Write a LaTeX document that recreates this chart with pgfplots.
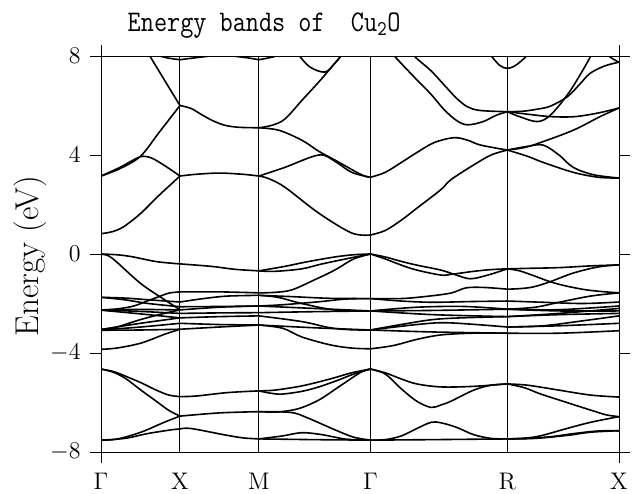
\documentclass[border=0pt]{standalone}
\usepackage{pgfplots}
\pgfplotsset{compat=1.18}
\usetikzlibrary{calc}
\begin{document}
\begin{tikzpicture}
\begin{axis}[
 scale only axis, width=259pt, height=198pt,
 xmin=0, xmax=3.28, ymin=-8, ymax=8,
 axis line style={line width=0.5pt},
 xtick={0,3.28}, xticklabels={$\Gamma$,X},
 extra x ticks={0.5,1,1.707,2.573},
 extra x tick labels={X,M,$\Gamma$,R},
 extra x tick style={major tick length=0pt, grid=major, xticklabel style={yshift=-5.5pt}},
 major grid style={black, line width=0.5pt},
 ytick={-8,-4,0,4,8},
 tick align=outside, major tick length=5.5pt,
 tick style={black, line width=0.5pt},
 yticklabel pos=left, xticklabel pos=bottom,
 ticklabel style={font=\fontsize{12}{14}\selectfont},
 xticklabel style={yshift=-1.6pt},
 yticklabel style={xshift=-1.2pt},
 every axis title shift=0pt,
 title={\scalebox{0.85}[1]{\fontsize{15}{17}\selectfont\ttfamily Energy bands of\ \ Cu\textsubscript{2}O}},
 title style={at={(rel axis cs:0.315,1.063)}, anchor=base},
 ylabel={\fontsize{16.5}{18}\selectfont Energy (eV)},
 ylabel style={at={(rel axis cs:-0.137,0.495)}, anchor=center},
 band/.style={black, line width=0.8pt, smooth, tension=0.55, mark=none},
]
% ---- conduction bands ----
\addplot[band] coordinates {(0,0.82)(0.07,0.9)(0.143,1.1)(0.253,1.65)(0.364,2.35)(0.5,3.15)};
\addplot[band] coordinates {(0,3.15)(0.12,3.45)(0.25,3.95)(0.37,4.93)(0.5,6.0)};
\addplot[band] coordinates {(0,3.15)(0.12,3.5)(0.22,3.85)(0.27,3.95)(0.33,3.85)(0.42,3.5)(0.5,3.15)};
\addplot[band] coordinates {(0.27,8.35)(0.305,8.04)(0.43,6.73)(0.5,6.0)};
\addplot[band] coordinates {(0.28,8.2)(0.4,7.95)(0.5,7.85)};
\addplot[band] coordinates {(0.5,7.85)(0.6,7.93)(0.76,8.03)(0.9,7.95)(1.0,7.85)};
\addplot[band] coordinates {(0.5,6.0)(0.57,5.88)(0.64,5.62)(0.71,5.38)(0.785,5.2)(0.873,5.12)(1.0,5.1)};
\addplot[band] coordinates {(0.5,3.15)(0.6,3.22)(0.75,3.27)(0.9,3.22)(1.0,3.15)};
\addplot[band] coordinates {(1,5.1)(1.082,5.2)(1.164,5.45)(1.271,6.2)(1.379,6.95)(1.461,7.56)(1.524,8.04)(1.56,8.35)};
\addplot[band] coordinates {(1,7.85)(1.08,7.95)(1.16,8.1)(1.23,8.3)};
\addplot[band] coordinates {(1.22,8.35)(1.252,8.04)(1.322,7.56)(1.417,7.35)(1.48,7.7)(1.524,8.04)(1.55,8.3)};
\addplot[band] coordinates {(1,5.1)(1.126,5.0)(1.271,4.6)(1.379,4.15)(1.48,3.8)(1.65,3.2)(1.707,3.1)};
\addplot[band] coordinates {(1,3.15)(1.164,3.5)(1.379,4.0)(1.48,3.75)(1.587,3.3)(1.707,3.1)};
\addplot[band] coordinates {(1,3.15)(1.06,3.05)(1.164,2.7)(1.379,1.65)(1.587,0.85)(1.707,0.77)};
\addplot[band] coordinates {(1.707,0.77)(1.8,0.95)(1.902,1.37)(2.0,1.85)(2.152,2.6)(2.215,3.0)(2.36,3.6)(2.47,4.0)(2.573,4.2)};
\addplot[band] coordinates {(1.707,3.1)(1.8,3.3)(1.902,3.7)(2.0,4.1)(2.109,4.5)(2.234,4.7)(2.32,4.6)(2.404,4.4)(2.573,4.2)};
\addplot[band] coordinates {(1.96,8.3)(1.983,8.0)(2.09,7.4)(2.17,6.85)(2.25,6.3)(2.32,5.95)(2.40,5.8)(2.573,5.75)};
\addplot[band] coordinates {(1.83,8.3)(1.858,8.0)(1.983,7.15)(2.09,6.45)(2.17,5.85)(2.25,5.4)(2.32,5.22)(2.42,5.35)(2.5,5.6)(2.573,5.75)};
\addplot[band] coordinates {(2.44,8.35)(2.467,8.04)(2.525,7.62)(2.573,7.5)(2.62,7.6)(2.67,7.85)(2.699,8.04)(2.72,8.3)};
\addplot[band] coordinates {(2.573,5.75)(2.674,5.77)(2.76,5.85)(2.844,5.97)(2.952,6.35)(3.03,6.85)(3.097,7.3)(3.19,7.6)(3.28,7.75)};
\addplot[band] coordinates {(2.573,5.75)(2.65,5.55)(2.762,5.35)(2.844,5.6)(2.952,6.42)(3.03,7.2)(3.097,7.95)(3.12,8.3)};
\addplot[band] coordinates {(2.573,5.75)(2.7,5.65)(2.85,5.55)(3.0,5.55)(3.15,5.7)(3.28,5.9)};
\addplot[band] coordinates {(3.19,8.3)(3.21,8.03)(3.25,7.85)(3.28,7.75)};
\addplot[band] coordinates {(2.573,4.2)(2.68,4.3)(2.781,4.5)(2.99,5.0)(3.16,5.55)(3.28,5.9)};
\addplot[band] coordinates {(2.573,4.2)(2.7,4.35)(2.8,4.4)(2.9,4.0)(2.99,3.5)(3.12,3.2)(3.28,3.07)};
\addplot[band] coordinates {(2.573,4.2)(2.70,3.95)(2.80,3.7)(2.99,3.3)(3.15,3.1)(3.28,3.07)};
% ---- top valence ----
\addplot[band] coordinates {(0,0)(0.1,-0.03)(0.188,-0.1)(0.28,-0.22)(0.364,-0.32)(0.5,-0.4)};
\addplot[band] coordinates {(0,0)(0.05,-0.08)(0.104,-0.35)(0.253,-1.2)(0.403,-1.85)(0.5,-2.25)};
\addplot[band] coordinates {(0.5,-0.4)(0.7,-0.5)(0.85,-0.62)(1.0,-0.68)};
\addplot[band] coordinates {(1,-0.68)(1.164,-0.5)(1.3,-0.32)(1.48,-0.12)(1.6,-0.03)(1.707,0)};
\addplot[band] coordinates {(1,-0.68)(1.1,-0.7)(1.271,-0.6)(1.4,-0.4)(1.587,-0.15)(1.707,0)};
\addplot[band] coordinates {(1,-1.57)(1.1,-1.55)(1.208,-1.45)(1.35,-1.05)(1.48,-0.65)(1.6,-0.2)(1.707,0)};
\addplot[band] coordinates {(1.707,0)(1.8,-0.12)(1.902,-0.3)(2.0,-0.45)(2.152,-0.65)(2.25,-0.85)(2.34,-1.0)(2.45,-0.85)(2.573,-0.6)};
\addplot[band] coordinates {(1.707,0)(1.8,-0.2)(1.902,-0.45)(2.0,-0.65)(2.152,-0.85)(2.22,-0.82)(2.36,-0.7)(2.47,-0.63)(2.573,-0.6)};
\addplot[band] coordinates {(2.573,-0.6)(2.7,-0.58)(2.9,-0.55)(3.1,-0.48)(3.28,-0.44)};
\addplot[band] coordinates {(2.573,-0.6)(2.65,-0.68)(2.75,-0.9)(2.844,-1.12)(2.95,-1.3)(3.097,-1.47)(3.28,-1.57)};
\addplot[band] coordinates {(2.573,-1.42)(2.65,-1.4)(2.737,-1.33)(2.844,-1.12)(2.99,-0.77)(3.15,-0.52)(3.28,-0.44)};
% ---- d bands: Gamma-X ----
\addplot[band] coordinates {(0,-1.75)(0.15,-1.78)(0.3,-1.85)(0.5,-1.94)};
\addplot[band] coordinates {(0,-1.75)(0.15,-1.85)(0.3,-2.0)(0.5,-2.13)};
\addplot[band] coordinates {(0,-2.26)(0.1,-2.22)(0.208,-2.1)(0.3,-1.88)(0.364,-1.73)(0.43,-1.58)(0.5,-1.53)};
\addplot[band] coordinates {(0,-2.26)(0.25,-2.24)(0.5,-2.26)};
\addplot[band] coordinates {(0,-2.26)(0.25,-2.32)(0.5,-2.4)};
\addplot[band] coordinates {(0,-2.27)(0.25,-2.42)(0.5,-2.58)};
\addplot[band] coordinates {(0,-3.05)(0.1,-2.95)(0.25,-2.65)(0.4,-2.4)(0.5,-2.26)};
\addplot[band] coordinates {(0,-3.05)(0.25,-2.8)(0.5,-2.58)};
\addplot[band] coordinates {(0,-3.07)(0.25,-2.95)(0.5,-2.8)};
\addplot[band] coordinates {(0,-3.08)(0.25,-3.07)(0.5,-3.04)};
\addplot[band] coordinates {(0,-3.85)(0.1,-3.8)(0.253,-3.6)(0.4,-3.25)(0.5,-3.04)};
% X-M
\addplot[band] coordinates {(0.5,-1.53)(0.75,-1.53)(1,-1.57)};
\addplot[band] coordinates {(0.5,-1.94)(0.65,-1.8)(0.8,-1.7)(1,-1.67)};
\addplot[band] coordinates {(0.5,-2.13)(0.75,-2.12)(1,-2.1)};
\addplot[band] coordinates {(0.5,-2.26)(0.75,-2.15)(1,-2.1)};
\addplot[band] coordinates {(0.5,-2.4)(0.75,-2.38)(1,-2.37)};
\addplot[band] coordinates {(0.5,-2.58)(0.75,-2.53)(1,-2.5)};
\addplot[band] coordinates {(0.5,-2.8)(0.75,-2.85)(1,-2.87)};
\addplot[band] coordinates {(0.5,-3.04)(0.75,-2.95)(1,-2.87)};
% M-Gamma
\addplot[band] coordinates {(1,-1.67)(1.12,-1.75)(1.271,-2.0)(1.48,-2.26)(1.707,-2.3)};
\addplot[band] coordinates {(1,-2.1)(1.15,-2.05)(1.379,-1.93)(1.55,-1.82)(1.707,-1.8)};
\addplot[band] coordinates {(1,-2.1)(1.35,-2.2)(1.707,-2.3)};
\addplot[band] coordinates {(1,-2.37)(1.35,-2.33)(1.707,-2.3)};
\addplot[band] coordinates {(1,-2.5)(1.271,-2.73)(1.45,-2.98)(1.58,-3.06)(1.707,-3.07)};
\addplot[band] coordinates {(1,-2.87)(1.35,-2.98)(1.707,-3.07)};
\addplot[band] coordinates {(1,-2.87)(1.15,-3.0)(1.271,-3.35)(1.45,-3.67)(1.587,-3.8)(1.707,-3.83)};
\addplot[band] coordinates {(1,-1.67)(1.2,-1.72)(1.45,-1.79)(1.707,-1.8)};
% Gamma-R
\addplot[band] coordinates {(1.707,-1.8)(1.9,-1.8)(2.05,-1.72)(2.215,-1.58)(2.31,-1.37)(2.42,-1.35)(2.573,-1.42)};
\addplot[band] coordinates {(1.707,-1.8)(1.9,-1.9)(2.1,-1.95)(2.35,-1.92)(2.573,-1.9)};
\addplot[band] coordinates {(1.707,-2.3)(2.1,-2.28)(2.573,-2.23)};
\addplot[band] coordinates {(1.707,-2.3)(2.1,-2.45)(2.573,-2.53)};
\addplot[band] coordinates {(1.707,-2.3)(2.0,-2.15)(2.3,-2.12)(2.573,-2.23)};
\addplot[band] coordinates {(1.707,-3.07)(2.0,-2.85)(2.2,-2.78)(2.573,-2.95)};
\addplot[band] coordinates {(1.707,-3.07)(2.1,-3.15)(2.573,-3.2)};
\addplot[band] coordinates {(1.707,-3.83)(1.85,-3.7)(2.0,-3.45)(2.152,-3.27)(2.35,-3.2)(2.573,-3.2)};
\addplot[band] coordinates {(1.707,-3.07)(1.9,-2.85)(2.152,-2.62)(2.573,-2.53)};
% R-X
\addplot[band] coordinates {(2.573,-1.9)(2.8,-1.95)(3.05,-2.0)(3.28,-1.94)};
\addplot[band] coordinates {(2.573,-2.23)(2.75,-2.15)(2.9,-1.95)(3.1,-1.7)(3.28,-1.57)};
\addplot[band] coordinates {(2.573,-2.23)(2.9,-2.25)(3.28,-2.1)};
\addplot[band] coordinates {(2.573,-2.23)(2.9,-2.3)(3.28,-2.3)};
\addplot[band] coordinates {(2.573,-2.53)(2.9,-2.45)(3.28,-2.4)};
\addplot[band] coordinates {(2.573,-2.53)(2.9,-2.4)(3.28,-2.2)};
\addplot[band] coordinates {(2.573,-2.95)(2.8,-2.9)(3.05,-2.7)(3.28,-2.5)};
\addplot[band] coordinates {(2.573,-2.95)(2.9,-2.9)(3.28,-2.8)};
\addplot[band] coordinates {(2.573,-3.2)(2.9,-3.2)(3.28,-3.1)};
% ---- lower bands ----
\addplot[band] coordinates {(0,-4.65)(0.08,-4.75)(0.16,-4.95)(0.253,-5.2)(0.35,-5.5)(0.43,-5.7)(0.5,-5.76)};
\addplot[band] coordinates {(0,-4.65)(0.08,-4.78)(0.16,-5.05)(0.253,-5.5)(0.35,-5.95)(0.43,-6.32)(0.5,-6.55)};
\addplot[band] coordinates {(0,-7.52)(0.1,-7.48)(0.253,-7.2)(0.4,-6.8)(0.5,-6.55)};
\addplot[band] coordinates {(0,-7.52)(0.15,-7.45)(0.3,-7.25)(0.45,-7.1)(0.5,-7.07)};
\addplot[band] coordinates {(0.5,-5.76)(0.6,-5.74)(0.8,-5.6)(1,-5.53)};
\addplot[band] coordinates {(0.5,-6.55)(0.75,-6.42)(1,-6.37)};
\addplot[band] coordinates {(0.5,-7.07)(0.57,-7.05)(0.785,-7.31)(0.9,-7.43)(1,-7.47)};
\addplot[band] coordinates {(1,-5.53)(1.1,-5.5)(1.271,-5.33)(1.45,-5.05)(1.587,-4.8)(1.707,-4.65)};
\addplot[band] coordinates {(1,-5.53)(1.07,-5.62)(1.145,-5.66)(1.271,-5.55)(1.379,-5.37)(1.5,-5.1)(1.6,-4.85)(1.707,-4.65)};
\addplot[band] coordinates {(1,-6.37)(1.12,-6.38)(1.25,-6.25)(1.379,-5.9)(1.505,-5.37)(1.65,-4.76)(1.707,-4.65)};
\addplot[band] coordinates {(1,-6.37)(1.2,-6.4)(1.3,-6.6)(1.48,-7.1)(1.6,-7.4)(1.707,-7.52)};
\addplot[band] coordinates {(1,-7.47)(1.15,-7.35)(1.271,-7.22)(1.4,-7.3)(1.55,-7.48)(1.707,-7.52)};
\addplot[band] coordinates {(1,-7.47)(1.35,-7.5)(1.707,-7.52)};
\addplot[band] coordinates {(1.707,-4.65)(1.8,-4.8)(1.902,-5.05)(2.0,-5.25)(2.152,-5.37)(2.35,-5.35)(2.573,-5.25)};
\addplot[band] coordinates {(1.707,-4.65)(1.8,-4.85)(1.902,-5.45)(2.0,-5.95)(2.09,-6.2)(2.152,-6.1)(2.215,-5.95)(2.36,-5.5)(2.47,-5.3)(2.573,-5.25)};
\addplot[band] coordinates {(1.707,-7.52)(1.8,-7.5)(1.902,-7.35)(2.0,-7.05)(2.09,-6.8)(2.152,-6.82)(2.25,-7.0)(2.36,-7.3)(2.47,-7.45)(2.573,-7.47)};
\addplot[band] coordinates {(1.707,-7.52)(2.1,-7.5)(2.573,-7.47)};
\addplot[band] coordinates {(2.573,-5.25)(2.7,-5.3)(2.9,-5.5)(3.1,-5.7)(3.28,-5.78)};
\addplot[band] coordinates {(2.573,-5.25)(2.68,-5.4)(2.781,-5.65)(2.95,-6.0)(3.097,-6.3)(3.2,-6.5)(3.28,-6.57)};
\addplot[band] coordinates {(2.573,-7.47)(2.68,-7.44)(2.781,-7.35)(2.95,-7.05)(3.1,-6.8)(3.28,-6.57)};
\addplot[band] coordinates {(2.573,-7.47)(2.7,-7.45)(2.85,-7.38)(3.0,-7.25)(3.15,-7.15)(3.28,-7.14)};
\addplot[band] coordinates {(2.573,-7.47)(2.75,-7.45)(2.95,-7.33)(3.1,-7.2)(3.28,-7.14)};
\coordinate (bl) at (rel axis cs:0,0);
\coordinate (tr) at (rel axis cs:1,1);
\end{axis}
\pgfresetboundingbox
\path[use as bounding box] ($(bl)+(-50.5pt,-20.5pt)$) rectangle ($(tr)+(10.5pt,28pt)$);
\end{tikzpicture}
\end{document}
